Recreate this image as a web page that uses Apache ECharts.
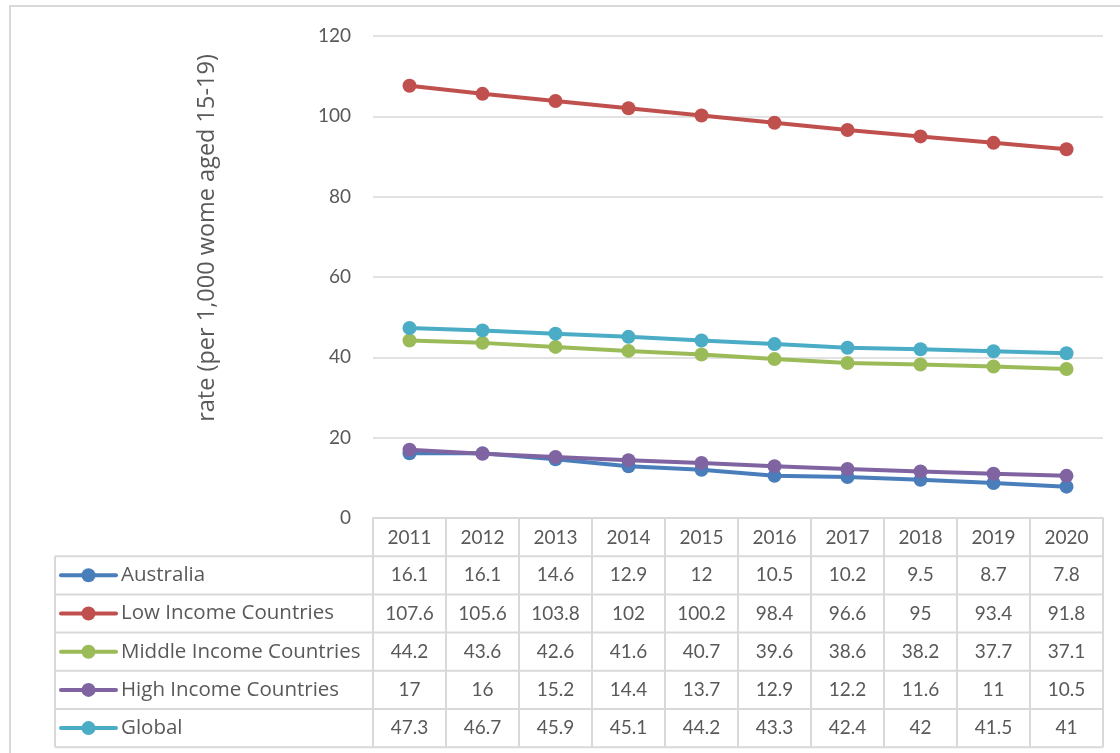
<!DOCTYPE html>
<html lang="en">
<head>
    <meta charset="UTF-8">
    <title>adolescent_birth_rate</title>
    <script src="https://cdn.jsdelivr.net/npm/echarts@6/dist/echarts.min.js"></script>
    <style>
        html,body{margin:0;padding:0;background:#fff}
        #main{width:1120px;height:753px}
    </style>
</head>
<body>
    <div id="main"></div>
    <script>
        var years = ['2011','2012','2013','2014','2015','2016','2017','2018','2019','2020'];
        var australia = [16.1,16.1,14.6,12.9,12,10.5,10.2,9.5,8.7,7.8];
        var lowIncome = [107.6,105.6,103.8,102,100.2,98.4,96.6,95,93.4,91.8];
        var middleIncome = [44.2,43.6,42.6,41.6,40.7,39.6,38.6,38.2,37.7,37.1];
        var highIncome = [17,16,15.2,14.4,13.7,12.9,12.2,11.6,11,10.5];
        var globalRate = [47.3,46.7,45.9,45.1,44.2,43.3,42.4,42,41.5,41];
        var seriesNames = ['Australia','Low Income Countries','Middle Income Countries','High Income Countries','Global'];
        var seriesData = [australia,lowIncome,middleIncome,highIncome,globalRate];
        var colors = ['#4a7ebb','#c0504d','#9bbb59','#8064a2','#4bacc6'];
        var yTitle = 'rate (per 1,000 wome aged 15-19)';

        var font = 'Lato, "Open Sans", sans-serif';
        var wideFont = '"Open Sans", Lato, sans-serif';
        var textColor = '#595959';
        var lineColor = '#d9d9d9';

        var mychart = echarts.init(document.getElementById('main'));
        var option = {
            animation:false,
            color:colors,
            grid:{left:373,right:17,top:36,bottom:235,containLabel:false},
            xAxis:{
                type:'category',
                data:years,
                boundaryGap:true,
                axisLine:{show:true,lineStyle:{color:lineColor,width:2}},
                axisTick:{show:false},
                axisLabel:{color:textColor,fontSize:19,fontFamily:font,margin:10}
            },
            yAxis:{
                type:'value',
                min:0,
                max:120,
                interval:20,
                axisLine:{show:false},
                axisTick:{show:false},
                axisLabel:{color:textColor,fontSize:19,fontFamily:font,margin:22},
                splitLine:{lineStyle:{color:lineColor,width:1.5}}
            },
            series:seriesNames.map(function(name,i){
                return {
                    name:name,
                    type:'line',
                    data:seriesData[i],
                    symbol:'circle',
                    symbolSize:14,
                    lineStyle:{width:4,color:colors[i]},
                    itemStyle:{color:colors[i]}
                };
            })
        };
        mychart.setOption(option);

        // data table under the plot, placed from the axis positions
        var p0 = mychart.convertToPixel({gridIndex:0},[0,0]);
        var p1 = mychart.convertToPixel({gridIndex:0},[1,0]);
        var colW = p1[0]-p0[0];
        var tableX = p0[0]-colW/2;
        var tableRight = tableX+colW*years.length;
        var tableTop = p0[1];
        var rowH = 38.2;
        var legendLeft = 55;
        var els = [];

        els.push({type:'rect',shape:{x:10,y:6,width:1300,height:900},
            style:{fill:'none',stroke:lineColor,lineWidth:2},silent:true});
        els.push({type:'text',x:207,y:238,rotation:Math.PI/2,
            style:{text:yTitle,fontSize:23.5,fontFamily:wideFont,fill:textColor,align:'center',verticalAlign:'middle'}});

        var bottom = tableTop+rowH*(seriesNames.length+1);
        for(var k=0;k<=years.length;k++){
            var vx = tableX+colW*k;
            els.push({type:'line',shape:{x1:vx,y1:tableTop,x2:vx,y2:bottom},style:{stroke:lineColor,lineWidth:2}});
        }
        els.push({type:'line',shape:{x1:legendLeft,y1:tableTop+rowH,x2:legendLeft,y2:bottom},style:{stroke:lineColor,lineWidth:2}});
        for(var r=1;r<=seriesNames.length+1;r++){
            var hy = tableTop+rowH*r;
            els.push({type:'line',shape:{x1:legendLeft,y1:hy,x2:tableRight,y2:hy},style:{stroke:lineColor,lineWidth:2}});
        }
        for(var s=0;s<seriesNames.length;s++){
            var cy = tableTop+rowH*(s+1.5);
            els.push({type:'line',shape:{x1:61,y1:cy,x2:116,y2:cy},style:{stroke:colors[s],lineWidth:4,lineCap:'round'}});
            els.push({type:'circle',shape:{cx:88.5,cy:cy,r:7},style:{fill:colors[s]}});
            els.push({type:'text',x:121,y:cy,style:{text:seriesNames[s],fontSize:20.5,fontFamily:wideFont,fill:textColor,align:'left',verticalAlign:'middle'}});
            for(var c=0;c<years.length;c++){
                els.push({type:'text',x:tableX+colW*(c+0.5),y:cy,
                    style:{text:String(seriesData[s][c]),fontSize:19,fontFamily:font,fill:textColor,align:'center',verticalAlign:'middle'}});
            }
        }
        mychart.setOption({graphic:{elements:els}});
    </script>
</body>
</html>
